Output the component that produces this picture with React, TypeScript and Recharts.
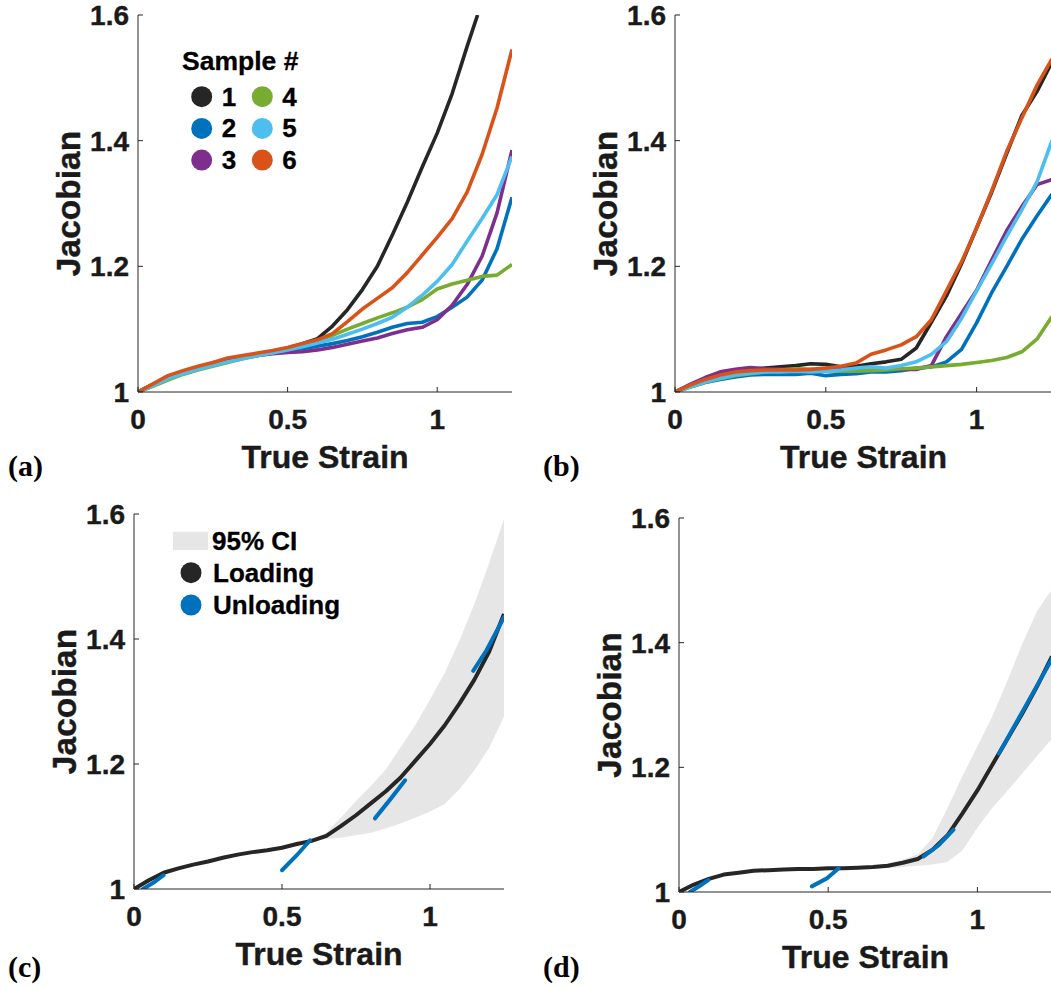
import React from "react";
import { ComposedChart, Line, Area, XAxis, YAxis, Legend, Label } from "recharts";

const FONT = '"Liberation Sans", Arial, Helvetica, sans-serif';
const SERIF = '"Liberation Serif", "Times New Roman", serif';
const INK = "#262626";
const TEXT = "#1a1a1a";
const TICK = 5;

const X_TICKS = [0, 0.5, 1];
const Y_TICKS = [1, 1.2, 1.4, 1.6];
const X_DOMAIN = [0, 1.25];
const Y_DOMAIN = [1, 1.6];

const SAMPLE_NAMES = ["1", "2", "3", "4", "5", "6"];
const SAMPLE_COLORS = ["#262626", "#0072BD", "#7E2F8E", "#77AC30", "#4DBEEE", "#D95319"];
const LOAD_COLOR = "#262626";
const UNLOAD_COLOR = "#0072BD";
const CI_COLOR = "#e6e6e6";

const STRAIN = [0, 0.05, 0.1, 0.15, 0.2, 0.25, 0.3, 0.35, 0.4, 0.45, 0.5, 0.55, 0.6, 0.65, 0.7, 0.75, 0.8, 0.85, 0.9, 0.95, 1.0, 1.05, 1.1, 1.15, 1.2, 1.25];

// (a) samples
const A1_STRAIN = [0, 0.05, 0.1, 0.15, 0.2, 0.25, 0.3, 0.35, 0.4, 0.45, 0.5, 0.55, 0.6, 0.65, 0.7, 0.75, 0.8, 0.85, 0.9, 0.95, 1.0, 1.05, 1.1, 1.135];
const A1 = [1.0, 1.012, 1.023, 1.031, 1.038, 1.044, 1.05, 1.055, 1.06, 1.065, 1.07, 1.077, 1.085, 1.105, 1.131, 1.163, 1.2, 1.25, 1.302, 1.358, 1.412, 1.475, 1.55, 1.6];
const A2 = [1.0, 1.012, 1.023, 1.031, 1.038, 1.044, 1.049, 1.054, 1.058, 1.062, 1.066, 1.069, 1.073, 1.077, 1.082, 1.088, 1.095, 1.103, 1.109, 1.111, 1.12, 1.135, 1.151, 1.178, 1.228, 1.31];
const A3 = [1.0, 1.011, 1.022, 1.031, 1.038, 1.044, 1.049, 1.054, 1.058, 1.061, 1.063, 1.064, 1.067, 1.071, 1.076, 1.081, 1.086, 1.093, 1.099, 1.103, 1.115, 1.138, 1.171, 1.216, 1.285, 1.385];
const A4 = [1.0, 1.009, 1.019, 1.028, 1.035, 1.041, 1.047, 1.053, 1.058, 1.063, 1.068, 1.074, 1.082, 1.09, 1.1, 1.109, 1.118, 1.126, 1.135, 1.147, 1.164, 1.172, 1.178, 1.184, 1.186, 1.203];
const A5 = [1.0, 1.01, 1.021, 1.029, 1.036, 1.042, 1.048, 1.053, 1.058, 1.062, 1.067, 1.072, 1.078, 1.084, 1.092, 1.1, 1.109, 1.119, 1.135, 1.154, 1.176, 1.203, 1.24, 1.276, 1.314, 1.375];
const A6 = [1.0, 1.013, 1.026, 1.034, 1.041, 1.047, 1.054, 1.058, 1.062, 1.066, 1.071, 1.077, 1.083, 1.093, 1.112, 1.132, 1.149, 1.166, 1.19, 1.218, 1.246, 1.276, 1.318, 1.378, 1.452, 1.545];

// (b) samples
const B1 = [1.0, 1.011, 1.021, 1.028, 1.033, 1.036, 1.038, 1.04, 1.042, 1.045, 1.044, 1.04, 1.041, 1.045, 1.048, 1.052, 1.07, 1.111, 1.153, 1.204, 1.261, 1.318, 1.38, 1.44, 1.478, 1.525];
const B2 = [1.0, 1.008, 1.015, 1.02, 1.024, 1.027, 1.028, 1.028, 1.028, 1.03, 1.026, 1.028, 1.029, 1.032, 1.032, 1.034, 1.038, 1.04, 1.048, 1.068, 1.11, 1.158, 1.2, 1.243, 1.28, 1.315];
const B3 = [1.0, 1.012, 1.023, 1.032, 1.036, 1.039, 1.037, 1.036, 1.036, 1.035, 1.036, 1.037, 1.037, 1.036, 1.037, 1.036, 1.036, 1.042, 1.088, 1.125, 1.162, 1.21, 1.257, 1.295, 1.33, 1.338];
const B4 = [1.0, 1.008, 1.016, 1.021, 1.026, 1.029, 1.032, 1.035, 1.037, 1.036, 1.034, 1.033, 1.033, 1.034, 1.035, 1.037, 1.038, 1.04, 1.042, 1.044, 1.047, 1.05, 1.055, 1.064, 1.084, 1.12];
const B5 = [1.0, 1.008, 1.016, 1.022, 1.027, 1.03, 1.032, 1.032, 1.033, 1.032, 1.033, 1.035, 1.038, 1.04, 1.038, 1.042, 1.048, 1.06, 1.08, 1.117, 1.161, 1.204, 1.248, 1.29, 1.334, 1.4];
const B6 = [1.0, 1.011, 1.02, 1.027, 1.032, 1.034, 1.035, 1.035, 1.035, 1.036, 1.038, 1.041, 1.046, 1.06, 1.067, 1.075, 1.088, 1.115, 1.161, 1.207, 1.261, 1.32, 1.383, 1.436, 1.488, 1.53];

// (c) mean loading, 95% CI, unloading segments
const C_LOAD = [1.0, 1.014, 1.026, 1.033, 1.039, 1.044, 1.05, 1.055, 1.059, 1.062, 1.066, 1.072, 1.077, 1.085, 1.101, 1.118, 1.137, 1.156, 1.178, 1.205, 1.232, 1.262, 1.297, 1.335, 1.38, 1.44];
const C_CI_STRAIN = [0.55, 0.6, 0.65, 0.7, 0.75, 0.8, 0.85, 0.9, 0.95, 1.0, 1.05, 1.1, 1.15, 1.2, 1.25];
const C_CI_LO = [1.072, 1.076, 1.08, 1.082, 1.086, 1.09, 1.097, 1.105, 1.114, 1.124, 1.136, 1.16, 1.19, 1.226, 1.276];
const C_CI_HI = [1.073, 1.079, 1.09, 1.115, 1.141, 1.165, 1.191, 1.226, 1.262, 1.303, 1.346, 1.398, 1.456, 1.522, 1.592];
const C_UNLOAD_STRAIN = [
  [0.03, 0.065, 0.1],
  [0.5, 0.55, 0.595],
  [0.814, 0.865, 0.916],
  [1.146, 1.191, 1.25],
];
const C_UNLOAD = [
  [1.0, 1.01, 1.022],
  [1.03, 1.054, 1.078],
  [1.113, 1.143, 1.174],
  [1.349, 1.382, 1.435],
];

// (d)
const D_LOAD = [1.0, 1.012, 1.021, 1.028, 1.031, 1.034, 1.035, 1.036, 1.037, 1.037, 1.038, 1.038, 1.039, 1.04, 1.042, 1.047, 1.053, 1.068, 1.091, 1.126, 1.163, 1.204, 1.245, 1.286, 1.33, 1.378];
const D_CI_STRAIN = [0.6, 0.65, 0.7, 0.75, 0.8, 0.85, 0.9, 0.95, 1.0, 1.05, 1.1, 1.15, 1.2, 1.25];
const D_CI_LO = [1.037, 1.038, 1.038, 1.04, 1.042, 1.044, 1.048, 1.067, 1.103, 1.135, 1.162, 1.19, 1.218, 1.246];
const D_CI_HI = [1.04, 1.042, 1.046, 1.052, 1.06, 1.087, 1.135, 1.186, 1.234, 1.282, 1.338, 1.398, 1.451, 1.486];
const D_UNLOAD_STRAIN = [
  [0.037, 0.07, 0.098],
  [0.445, 0.496, 0.535],
  [0.82, 0.87, 0.92],
  [1.072, 1.16, 1.25],
];
const D_UNLOAD = [
  [1.0, 1.01, 1.019],
  [1.009, 1.022, 1.038],
  [1.057, 1.075, 1.1],
  [1.222, 1.297, 1.374],
];

const zip = (xs: number[], ys: number[]) => xs.map((s, i) => ({ s, j: ys[i] }));
const band = (xs: number[], lo: number[], hi: number[]) => xs.map((s, i) => ({ s, ci: [lo[i], hi[i]] }));

type Box = { left: number; top: number; width: number; height: number; plotLeft: number; plotTop: number; plotWidth: number; plotHeight: number };

const BOX_A: Box = { left: 0, top: 0, width: 530, height: 490, plotLeft: 138, plotTop: 15, plotWidth: 374, plotHeight: 377 };
const BOX_B: Box = { left: 530, top: 0, width: 545, height: 490, plotLeft: 145, plotTop: 15, plotWidth: 377, plotHeight: 377 };
const BOX_C: Box = { left: 0, top: 490, width: 530, height: 499, plotLeft: 134, plotTop: 24, plotWidth: 370, plotHeight: 375 };
const BOX_D: Box = { left: 530, top: 490, width: 545, height: 499, plotLeft: 149, plotTop: 28, plotWidth: 373, plotHeight: 374 };

const Y_AXIS_W = 60;
const X_AXIS_H = 40;

const margins = (b: Box) => ({
  top: b.plotTop,
  left: b.plotLeft - Y_AXIS_W,
  right: b.width - b.plotLeft - b.plotWidth,
  bottom: b.height - b.plotTop - b.plotHeight - X_AXIS_H,
});

const tickText = { fontFamily: FONT, fontWeight: 700, fontSize: 28, fill: TEXT, stroke: TEXT, strokeWidth: 0.4 };

const BottomTick = (p: any) => (
  <g>
    <line x1={p.x} x2={p.x} y1={p.y} y2={p.y - TICK} stroke={INK} />
    <text x={p.x} y={p.y + 37} textAnchor="middle" {...tickText}>{p.payload.value}</text>
  </g>
);
const LeftTick = (p: any) => (
  <g>
    <line x1={p.x} x2={p.x + TICK} y1={p.y} y2={p.y} stroke={INK} />
    <text x={p.x - 9} y={p.y + 10} textAnchor="end" {...tickText}>{p.payload.value}</text>
  </g>
);
const TopTick = (p: any) => <line x1={p.x} x2={p.x} y1={p.y} y2={p.y + TICK} stroke={INK} />;
const RightTick = (p: any) => <line x1={p.x} x2={p.x - TICK} y1={p.y} y2={p.y} stroke={INK} />;

const labelText = { fontFamily: FONT, fontWeight: 700, fill: TEXT, stroke: TEXT, strokeWidth: 0.4 };

const XTitle = (p: any) => {
  const vb = p.viewBox;
  return (
    <text x={vb.x + vb.width / 2} y={vb.y + 76} textAnchor="middle" fontSize={32} {...labelText}>True Strain</text>
  );
};
const YTitle = (p: any) => {
  const vb = p.viewBox;
  const cx = vb.x + vb.width - 58;
  const cy = vb.y + vb.height / 2;
  return (
    <text x={cx} y={cy} textAnchor="middle" fontSize={33.5} transform={`rotate(-90 ${cx} ${cy})`} {...labelText}>Jacobian</text>
  );
};

const axes = () => [
  <XAxis key="xb" type="number" dataKey="s" domain={X_DOMAIN} ticks={X_TICKS} allowDataOverflow interval={0}
    height={X_AXIS_H} tickSize={0} tickMargin={0} tickLine={false} tick={<BottomTick />} axisLine={{ stroke: INK }}>
    <Label content={<XTitle />} />
  </XAxis>,
  <XAxis key="xt" xAxisId="t" orientation="top" type="number" dataKey="s" domain={X_DOMAIN} ticks={X_TICKS} allowDataOverflow interval={0}
    height={0} tickSize={0} tickMargin={0} tickLine={false} tick={<TopTick />} axisLine={{ stroke: INK }} />,
  <YAxis key="yl" type="number" domain={Y_DOMAIN} ticks={Y_TICKS} allowDataOverflow interval={0}
    width={Y_AXIS_W} tickSize={0} tickMargin={0} tickLine={false} tick={<LeftTick />} axisLine={{ stroke: INK }}>
    <Label content={<YTitle />} />
  </YAxis>,
  <YAxis key="yr" yAxisId="r" orientation="right" type="number" domain={Y_DOMAIN} ticks={Y_TICKS} allowDataOverflow interval={0}
    width={0} tickSize={0} tickMargin={0} tickLine={false} tick={<RightTick />} axisLine={{ stroke: INK }} />,
];

const legendText = { fontFamily: FONT, fontWeight: 700, fill: "#000", stroke: "#000", strokeWidth: 0.3 };

const SampleLegend = () => (
  <svg width={160} height={140}>
    <text x={12} y={35} fontSize={26.5} {...legendText}>Sample #</text>
    {SAMPLE_NAMES.map((n, i) => {
      const col = Math.floor(i / 3);
      const row = i % 3;
      const cx = 31.7 + col * 60.6;
      const cy = 61.7 + row * 31.7;
      return (
        <g key={n}>
          <circle cx={cx} cy={cy} r={10.5} fill={SAMPLE_COLORS[i]} />
          <text x={cx + 20} y={cy + 9} fontSize={26} {...legendText}>{n}</text>
        </g>
      );
    })}
  </svg>
);

const CiLegend = () => (
  <svg width={200} height={110}>
    <rect x={8} y={11.7} width={35} height={18.3} fill={CI_COLOR} />
    <text x={47} y={30} fontSize={26} {...legendText}>95% CI</text>
    <circle cx={26} cy={52.7} r={10.5} fill={LOAD_COLOR} />
    <text x={48} y={61.7} fontSize={26} {...legendText}>Loading</text>
    <circle cx={26} cy={85} r={10.5} fill={UNLOAD_COLOR} />
    <text x={48} y={93.5} fontSize={26} {...legendText}>Unloading</text>
  </svg>
);

const SAMPLES_A = [zip(A1_STRAIN, A1), zip(STRAIN, A2), zip(STRAIN, A3), zip(STRAIN, A4), zip(STRAIN, A5), zip(STRAIN, A6)];
const SAMPLES_B = [B1, B2, B3, B4, B5, B6].map((v) => zip(STRAIN, v));

function SamplePanel({ box, samples, legend }: { box: Box; samples: { s: number; j: number }[][]; legend: boolean }) {
  return (
    <div style={{ position: "absolute", left: box.left, top: box.top }}>
      <ComposedChart width={box.width} height={box.height} margin={margins(box)}>
        {axes()}
        {samples.map((d, i) => (
          <Line key={i} data={d} dataKey="j" name={SAMPLE_NAMES[i]} type="linear" stroke={SAMPLE_COLORS[i]}
            strokeWidth={3.6} strokeLinejoin="round" dot={false} isAnimationActive={false} />
        ))}
        {legend && (
          <Legend layout="vertical" align="center" verticalAlign="middle" content={() => <SampleLegend />}
            wrapperStyle={{ left: 170, top: 35, width: 160, height: 140 }} />
        )}
      </ComposedChart>
    </div>
  );
}

function CyclePanel({ box, load, ci, unloadStrain, unload, legend }: {
  box: Box; load: number[]; ci: { s: number; ci: number[] }[]; unloadStrain: number[][]; unload: number[][]; legend: boolean;
}) {
  return (
    <div style={{ position: "absolute", left: box.left, top: box.top }}>
      <ComposedChart width={box.width} height={box.height} margin={margins(box)}>
        {axes()}
        <Area data={ci} dataKey="ci" name="95% CI" type="linear" fill={CI_COLOR} fillOpacity={1} stroke="none" isAnimationActive={false} />
        <Line data={zip(STRAIN, load)} dataKey="j" name="Loading" type="linear" stroke={LOAD_COLOR} strokeWidth={4}
          strokeLinejoin="round" dot={false} isAnimationActive={false} />
        {unload.map((v, i) => (
          <Line key={i} data={zip(unloadStrain[i], v)} dataKey="j" name="Unloading" type="linear" stroke={UNLOAD_COLOR}
            strokeWidth={4} strokeLinecap="round" dot={false} isAnimationActive={false} />
        ))}
        {legend && (
          <Legend layout="vertical" align="center" verticalAlign="middle" content={() => <CiLegend />}
            wrapperStyle={{ left: 165, top: 30, width: 200, height: 110 }} />
        )}
      </ComposedChart>
    </div>
  );
}

const PANEL_LABELS = [
  { text: "(a)", x: 8, y: 476 },
  { text: "(b)", x: 543, y: 476 },
  { text: "(c)", x: 8, y: 977 },
  { text: "(d)", x: 543, y: 977 },
];

export default function App() {
  return (
    <div style={{ position: "absolute", left: 0, top: 0, width: 1051, height: 989, overflow: "hidden", background: "#fff" }}>
      <SamplePanel box={BOX_A} samples={SAMPLES_A} legend />
      <SamplePanel box={BOX_B} samples={SAMPLES_B} legend={false} />
      <CyclePanel box={BOX_C} load={C_LOAD} ci={band(C_CI_STRAIN, C_CI_LO, C_CI_HI)} unloadStrain={C_UNLOAD_STRAIN} unload={C_UNLOAD} legend />
      <CyclePanel box={BOX_D} load={D_LOAD} ci={band(D_CI_STRAIN, D_CI_LO, D_CI_HI)} unloadStrain={D_UNLOAD_STRAIN} unload={D_UNLOAD} legend={false} />
      <svg width={1051} height={989} style={{ position: "absolute", left: 0, top: 0, pointerEvents: "none" }}>
        {PANEL_LABELS.map((l) => (
          <text key={l.text} x={l.x} y={l.y} fontFamily={SERIF} fontWeight={700} fontSize={30} fill="#000">{l.text}</text>
        ))}
      </svg>
    </div>
  );
}
